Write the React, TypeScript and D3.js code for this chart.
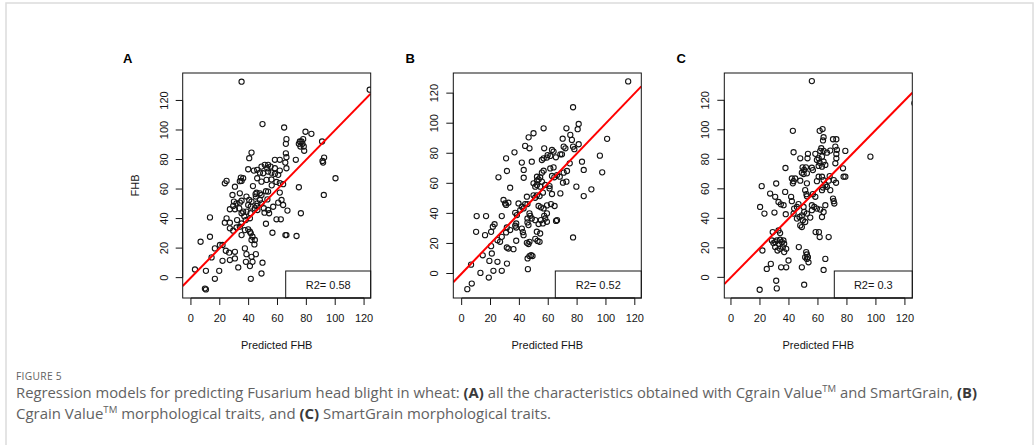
import React from "react";
import * as d3 from "d3";

// Axis ticks shared by the three panels
const xTicks = [0, 20, 40, 60, 80, 100, 120];
const yTicks = [0, 20, 40, 60, 80, 100, 120];
const panelLetters = ["A", "B", "C"];
const r2Labels = ["R2= 0.58", "R2= 0.52", "R2= 0.3"];
const fitIntercept = [0, 0, 0];
const fitSlope = [1, 1, 1];

// (predicted FHB, observed FHB) — all characteristics
const pointsA: [number, number][] = [
  [35.1, 132.7], [123.9, 127.3], [49.6, 104.0], [64.6, 101.7], [79.4, 98.8], [83.5, 97.4],
  [66.2, 93.8], [65.8, 90.6], [77.8, 93.8], [75.5, 92.2], [76.6, 92.2], [74.8, 90.6],
  [77.3, 90.6], [75.9, 88.8], [78.2, 88.8], [78.5, 85.9], [90.9, 92.2], [42.0, 84.7],
  [40.4, 80.9], [65.8, 84.2], [66.2, 81.6], [72.7, 79.8], [92.3, 81.3], [91.2, 79.0],
  [91.6, 77.9], [58.2, 79.8], [61.6, 79.8], [65.4, 77.9], [39.7, 73.4], [43.6, 72.5],
  [45.9, 73.0], [48.9, 75.2], [51.2, 76.4], [53.5, 76.4], [55.2, 75.2], [52.9, 74.1],
  [58.2, 74.1], [61.6, 72.5], [66.2, 74.1], [47.8, 71.1], [50.1, 70.7], [53.5, 71.8],
  [55.8, 71.1], [58.2, 70.3], [60.5, 69.6], [100.2, 67.3], [24.7, 65.5], [23.5, 63.9],
  [34.6, 67.8], [36.2, 67.3], [35.1, 65.5], [45.9, 67.3], [48.9, 65.0], [52.4, 66.2],
  [55.8, 66.5], [59.3, 64.8], [61.6, 64.0], [30.5, 61.6], [33.9, 65.3], [63.9, 63.3],
  [74.8, 61.2], [92.1, 56.0], [53.5, 58.3], [28.8, 56.0], [33.9, 57.1], [38.5, 54.9],
  [44.8, 56.6], [47.8, 57.1], [48.9, 56.0], [45.0, 54.9], [61.6, 57.6], [29.8, 51.5],
  [29.3, 48.5], [31.6, 50.3], [33.9, 50.8], [35.1, 52.1], [40.4, 52.6], [42.0, 51.5],
  [39.7, 49.2], [41.5, 48.1], [46.1, 50.3], [47.8, 52.6], [48.9, 50.3], [45.5, 48.5],
  [27.0, 46.3], [30.5, 46.3], [33.5, 46.9], [36.2, 44.7], [38.5, 44.7], [35.1, 43.6],
  [41.3, 43.6], [40.9, 40.2], [44.3, 46.9], [46.1, 45.8], [60.5, 50.8], [62.8, 52.6],
  [63.9, 49.2], [53.5, 45.8], [54.2, 43.6], [66.9, 45.4], [76.2, 43.6], [59.3, 39.5],
  [62.3, 39.5], [13.2, 40.8], [24.7, 40.2], [23.5, 37.2], [27.0, 37.2], [27.0, 33.4],
  [29.3, 31.8], [31.6, 34.0], [33.9, 34.5], [35.1, 36.7], [37.4, 32.2], [39.7, 32.7],
  [40.9, 31.1], [35.1, 28.8], [41.5, 30.0], [42.7, 27.7], [44.3, 25.5], [42.0, 25.5],
  [56.5, 30.4], [65.5, 28.8], [66.2, 28.8], [73.2, 28.2], [6.7, 24.3], [13.2, 27.7],
  [16.6, 19.8], [20.1, 22.1], [21.9, 22.1], [24.2, 18.2], [26.5, 16.9], [30.5, 17.5],
  [27.0, 11.9], [30.5, 13.0], [14.3, 13.7], [21.9, 11.4], [37.4, 19.8], [38.5, 15.9],
  [38.1, 10.7], [42.0, 14.1], [42.7, 10.7], [45.0, 15.9], [49.6, 10.1], [32.8, 6.9],
  [40.9, 7.8], [48.9, 2.8], [2.8, 5.5], [10.4, 4.6], [19.6, 4.6], [16.6, -0.8],
  [41.5, -0.8], [9.7, -7.4], [10.4, -8.0], [45.5, 57.5], [52.0, 58.5], [53.0, 53.0],
  [50.5, 47.0], [57.0, 48.0], [51.0, 44.0], [56.0, 62.5], [43.0, 62.0], [32.0, 39.0],
  [37.0, 41.5], [52.0, 36.5], [44.0, 22.5], [38.0, 39.0],
];

// Cgrain Value morphological traits
const pointsB: [number, number][] = [
  [115.4, 127.8], [77.2, 110.6], [81.1, 99.5], [80.4, 96.0], [56.8, 96.6], [72.6, 96.6],
  [49.8, 93.3], [46.4, 90.6], [70.0, 89.7], [75.3, 92.2], [76.4, 88.9], [100.8, 89.6],
  [44.0, 84.9], [47.0, 83.3], [57.2, 83.3], [36.6, 80.6], [70.7, 84.4], [71.9, 83.3],
  [77.2, 84.4], [78.1, 82.7], [81.1, 86.0], [59.6, 78.8], [61.4, 78.2], [63.7, 81.1],
  [62.6, 82.2], [59.1, 77.1], [56.8, 76.6], [55.6, 75.5], [68.4, 79.3], [69.5, 79.3],
  [65.3, 77.3], [30.8, 76.6], [41.7, 73.8], [48.6, 74.4], [74.9, 73.3], [95.8, 78.4],
  [83.4, 74.4], [84.6, 68.9], [97.4, 67.3], [25.5, 64.0], [31.4, 68.2], [43.0, 68.9],
  [55.6, 67.1], [56.8, 68.4], [52.2, 64.4], [53.3, 62.6], [54.4, 64.0], [55.6, 61.1],
  [52.2, 61.8], [62.6, 64.9], [64.2, 64.0], [66.1, 65.5], [68.0, 64.4], [70.7, 67.1],
  [73.0, 68.2], [72.6, 61.1], [70.2, 60.4], [61.4, 69.9], [63.7, 70.6], [43.0, 63.7],
  [33.6, 57.1], [79.5, 57.8], [89.9, 56.0], [49.8, 60.0], [51.0, 57.8], [52.2, 58.9],
  [54.4, 57.8], [56.3, 53.8], [57.9, 58.9], [60.9, 58.2], [60.9, 56.6], [29.0, 48.9],
  [30.1, 46.6], [32.4, 47.1], [30.8, 45.6], [39.4, 46.6], [41.7, 44.4], [44.0, 46.2],
  [42.9, 43.3], [40.6, 42.2], [37.1, 40.4], [38.3, 38.9], [45.2, 51.1], [45.6, 46.2],
  [53.3, 44.9], [54.9, 44.0], [56.8, 43.3], [59.1, 45.3], [61.9, 46.2], [64.4, 44.9],
  [59.1, 40.0], [47.0, 40.0], [47.5, 38.4], [48.6, 36.6], [45.6, 36.6], [46.3, 32.2],
  [45.6, 34.0], [51.0, 35.5], [53.3, 32.9], [54.9, 35.5], [56.3, 33.3], [57.9, 36.6],
  [59.1, 34.4], [57.2, 38.4], [66.1, 35.5], [65.4, 35.0], [10.4, 38.2], [16.9, 38.2],
  [27.8, 38.2], [31.3, 30.6], [33.6, 28.9], [30.8, 27.3], [37.1, 31.8], [37.8, 33.3],
  [37.8, 30.6], [10.0, 27.7], [16.2, 25.5], [21.6, 31.1], [20.4, 27.7], [24.8, 22.2],
  [26.6, 21.1], [14.6, 12.1], [20.4, 18.2], [20.9, 13.3], [22.8, 32.8], [27.8, 24.4],
  [31.3, 17.3], [32.4, 16.6], [35.9, 16.2], [37.8, 21.8], [41.7, 29.9], [42.4, 27.5],
  [42.9, 25.5], [45.2, 20.4], [47.0, 21.1], [46.3, 19.6], [48.2, 12.2], [45.7, 10.0],
  [47.0, 11.6], [49.1, 11.6], [45.9, 2.9], [77.2, 24.0], [19.2, 8.4], [24.8, 7.8],
  [31.4, 6.6], [6.5, 5.9], [13.0, 0.4], [18.8, -2.7], [22.0, 1.8], [27.8, 1.8],
  [3.9, -10.4], [7.0, -6.7], [84.6, 51.5], [62.6, 52.9], [68.4, 53.3], [49.8, 52.0],
  [50.9, 50.4], [52.1, 52.0], [54.0, 51.5], [51.0, 23.1], [52.6, 21.7], [54.0, 21.1],
  [54.4, 26.6], [52.1, 27.8],
];

// SmartGrain morphological traits
const pointsC: [number, number][] = [
  [55.8, 133.0], [42.7, 99.3], [63.2, 100.5], [61.2, 99.3], [63.9, 95.0], [63.5, 92.8],
  [70.4, 93.6], [72.7, 93.6], [72.0, 88.6], [73.1, 86.4], [72.7, 83.6], [72.7, 80.7],
  [72.0, 77.3], [78.9, 85.7], [43.2, 84.8], [62.3, 87.5], [61.6, 85.7], [63.9, 85.7],
  [66.2, 84.5], [68.5, 85.9], [53.1, 83.7], [52.8, 80.7], [58.2, 83.7], [60.5, 80.7],
  [59.3, 79.6], [61.2, 77.7], [62.8, 81.8], [63.9, 78.4], [65.1, 76.2], [62.8, 75.0],
  [60.5, 75.5], [47.8, 80.7], [96.2, 81.8], [49.4, 74.6], [50.5, 72.8], [48.9, 70.9],
  [50.1, 70.0], [52.4, 70.5], [51.7, 74.6], [37.6, 74.1], [55.8, 74.3], [56.5, 72.7],
  [77.3, 73.9], [77.7, 68.2], [78.9, 68.2], [68.1, 68.6], [67.4, 65.5], [70.9, 65.9],
  [42.0, 67.0], [44.3, 67.0], [43.2, 65.2], [42.7, 63.7], [47.8, 65.5], [52.4, 63.7],
  [60.5, 68.2], [59.3, 65.2], [62.8, 68.2], [63.9, 65.9], [65.1, 62.5], [66.2, 61.4],
  [68.5, 59.1], [62.8, 59.1], [63.5, 60.9], [21.2, 61.8], [31.2, 63.6], [72.5, 64.1],
  [37.4, 57.9], [27.0, 56.8], [30.5, 54.6], [32.8, 51.1], [34.4, 49.5], [36.3, 48.9],
  [41.5, 54.6], [42.0, 51.6], [51.2, 59.1], [52.1, 56.4], [52.4, 55.0], [56.5, 56.4],
  [58.2, 54.6], [70.4, 53.4], [70.9, 51.6], [71.3, 50.0], [20.1, 47.7], [23.1, 43.2],
  [30.0, 43.9], [37.8, 42.8], [43.2, 43.2], [43.6, 46.6], [45.5, 47.7], [46.6, 49.6],
  [50.1, 47.7], [50.5, 44.3], [52.4, 43.2], [48.9, 42.0], [47.3, 40.9], [45.5, 39.8],
  [49.6, 38.7], [51.2, 37.5], [48.9, 34.1], [47.8, 35.2], [55.8, 48.9], [57.5, 47.7],
  [59.3, 46.6], [55.8, 45.5], [61.6, 45.9], [63.9, 44.3], [65.1, 48.9], [62.8, 40.9],
  [54.7, 40.5], [58.4, 30.7], [60.7, 30.7], [61.2, 27.3], [67.4, 27.3], [28.8, 30.7],
  [32.8, 31.8], [33.9, 30.0], [28.2, 25.0], [29.3, 23.2], [30.5, 23.9], [31.6, 25.0],
  [32.8, 22.8], [33.9, 25.5], [35.1, 23.9], [36.2, 25.0], [36.7, 22.8], [30.5, 20.5],
  [32.1, 18.2], [33.9, 19.3], [35.8, 20.5], [36.7, 17.1], [38.1, 19.3], [39.7, 11.4],
  [46.8, 20.5], [51.9, 17.1], [52.4, 15.5], [53.1, 13.7], [52.4, 12.5], [53.5, 10.2],
  [51.2, 13.7], [21.7, 18.2], [24.7, 5.7], [27.5, 9.1], [34.6, 6.8], [38.1, 6.8],
  [48.9, 6.8], [65.1, 12.5], [63.9, 5.0], [31.2, -2.3], [31.6, -7.5], [19.8, -8.4],
  [50.5, -5.0], [126.5, 118.0],
];

const panelPoints = [pointsA, pointsB, pointsC];

// Panel geometry (pixels) and axis limits
const BOX_W = 188;
const BOX_H = 225;
const BOX_TOP = 73;
const panelLeft = [182.7, 453.3, 724.3];
const xLims: [number, number][] = [[-5.7, 124.6], [-5.8, 124.5], [-4.6, 125.1]];
const yLims: [number, number][] = [[-13.8, 138.6], [-16.3, 133.4], [-14.0, 138.5]];
const legendW = [85, 86, 78];

const AXIS_FONT = "'Liberation Sans', Arial, Helvetica, sans-serif";
const INK = "#151515";

function Panel({ i }: { i: number }) {
  const L = panelLeft[i];
  const R = L + BOX_W;
  const T = BOX_TOP;
  const B = BOX_TOP + BOX_H;
  const x = d3.scaleLinear().domain(xLims[i]).range([L, R]);
  const y = d3.scaleLinear().domain(yLims[i]).range([B, T]);
  const clipId = `plot-clip-${i}`;
  const [x0, x1] = xLims[i];
  const fit = (v: number) => fitIntercept[i] + fitSlope[i] * v;
  const linePath = d3.line()([
    [x(x0), y(fit(x0))],
    [x(x1), y(fit(x1))],
  ]) as string;
  const cx = (L + R) / 2;
  const lw = legendW[i];
  const legH = 27;

  return (
    <g fontFamily={AXIS_FONT}>
      <defs>
        <clipPath id={clipId}>
          <rect x={L} y={T} width={BOX_W} height={BOX_H} />
        </clipPath>
      </defs>

      <g clipPath={`url(#${clipId})`}>
        {panelPoints[i].map(([px, py], k) => (
          <circle key={k} cx={x(px)} cy={y(py)} r={2.6} fill="none" stroke={INK} strokeWidth={1.1} />
        ))}
        <path d={linePath} stroke="#ff0000" strokeWidth={2} fill="none" />
      </g>

      <rect x={R - lw} y={B - legH} width={lw} height={legH} fill="#fff" stroke={INK} strokeWidth={1} />
      <text x={R - lw / 2} y={B - legH / 2} textAnchor="middle" dominantBaseline="central" fontSize={11} fill={INK}>
        {r2Labels[i]}
      </text>

      <rect x={L} y={T} width={BOX_W} height={BOX_H} fill="none" stroke={INK} strokeWidth={1} />

      {/* x axis */}
      <line x1={x(xTicks[0])} x2={x(xTicks[xTicks.length - 1])} y1={B} y2={B} stroke={INK} />
      {xTicks.map((t) => (
        <g key={`xt${t}`}>
          <line x1={x(t)} x2={x(t)} y1={B} y2={B + 7} stroke={INK} />
          <text x={x(t)} y={B + 20} textAnchor="middle" dominantBaseline="central" fontSize={11} fill={INK}>
            {t}
          </text>
        </g>
      ))}
      <text x={cx} y={B + 47} textAnchor="middle" dominantBaseline="central" fontSize={11} fill={INK}>
        Predicted FHB
      </text>

      {/* y axis */}
      <line x1={L} x2={L} y1={y(yTicks[0])} y2={y(yTicks[yTicks.length - 1])} stroke={INK} />
      {yTicks.map((t) => (
        <g key={`yt${t}`}>
          <line x1={L - 7} x2={L} y1={y(t)} y2={y(t)} stroke={INK} />
          <text
            transform={`translate(${L - 19},${y(t)}) rotate(-90)`}
            textAnchor="middle"
            dominantBaseline="central"
            fontSize={11}
            fill={INK}
          >
            {t}
          </text>
        </g>
      ))}
      {i === 0 && (
        <text
          transform={`translate(${L - 48},${(T + B) / 2}) rotate(-90)`}
          textAnchor="middle"
          dominantBaseline="central"
          fontSize={11}
          fill={INK}
        >
          FHB
        </text>
      )}

      <text x={L - 55 + (i === 0 ? 0 : 12)} y={T - 10} textAnchor="middle" fontSize={13} fontWeight="bold" fill="#000">
        {panelLetters[i]}
      </text>
    </g>
  );
}

const CAPTION_FONT = "'Open Sans', 'Noto Sans', sans-serif";

export default function App() {
  return (
    <svg
      width={1035}
      height={445}
      style={{ position: "absolute", left: 0, top: 0, background: "#fff" }}
    >
      <rect x={0} y={0} width={1035} height={445} fill="#fff" />
      <rect x={6} y={3} width={1027} height={470} fill="none" stroke="#dcdcdc" strokeWidth={1.5} />

      {[0, 1, 2].map((i) => (
        <Panel key={i} i={i} />
      ))}

      <g fontFamily={CAPTION_FONT} fill="#626262">
        <text x={16} y={380} fontSize={10} letterSpacing={0.3} textLength={46} lengthAdjust="spacingAndGlyphs">
          FIGURE 5
        </text>
        <text x={16} y={398} fontSize={14} textLength={961} lengthAdjust="spacingAndGlyphs">
          Regression models for predicting Fusarium head blight in wheat:{" "}
          <tspan fontWeight="bold" fill="#3a3a3a">(A)</tspan> all the characteristics obtained with Cgrain Value
          <tspan fontSize={9} dy={-6}>TM</tspan>
          <tspan dy={6}> and SmartGrain, </tspan>
          <tspan fontWeight="bold" fill="#3a3a3a">(B)</tspan>
        </text>
        <text x={16} y={419} fontSize={14} textLength={535} lengthAdjust="spacingAndGlyphs">
          Cgrain Value<tspan fontSize={9} dy={-6}>TM</tspan>
          <tspan dy={6}> morphological traits, and </tspan>
          <tspan fontWeight="bold" fill="#3a3a3a">(C)</tspan> SmartGrain morphological traits.
        </text>
      </g>
    </svg>
  );
}
